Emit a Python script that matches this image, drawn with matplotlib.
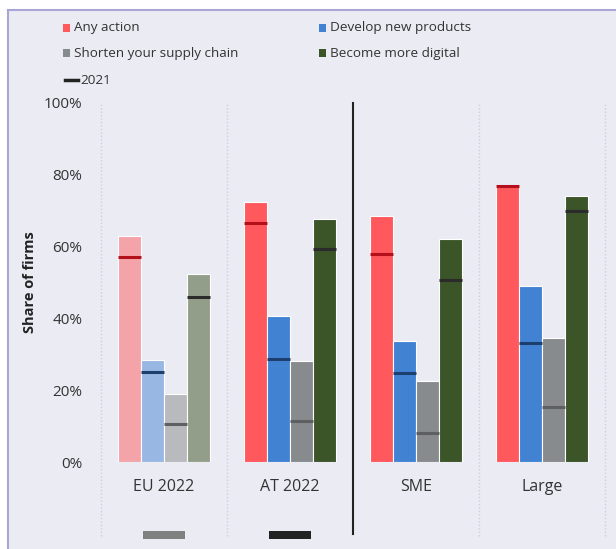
import matplotlib
matplotlib.use("Agg")
import matplotlib.pyplot as plt
from matplotlib.patches import Rectangle
import numpy as np

plt.rcParams['font.family'] = ['Open Sans', 'DejaVu Sans']

categories = ["EU 2022", "AT 2022", "SME", "Large"]
series = ["Any action", "Develop new products", "Shorten your supply chain", "Become more digital"]
any_action = [63, 72.3, 68.6, 77.2]
develop = [28.3, 40.8, 33.7, 49.1]
shorten = [18.9, 28.0, 22.6, 34.5]
digital = [52.3, 67.7, 62.2, 74.1]
any_2021 = [57, 66.6, 58, 76.9]
develop_2021 = [25, 28.7, 24.9, 33.1]
shorten_2021 = [10.5, 11.3, 8.1, 15.3]
digital_2021 = [46, 59.4, 50.7, 70]
yticks = [0, 20, 40, 60, 80, 100]
ytick_labels = ["0%", "20%", "40%", "60%", "80%", "100%"]

values = [any_action, develop, shorten, digital]
values_2021 = [any_2021, develop_2021, shorten_2021, digital_2021]

main_colors = ["#ff585d", "#4182d3", "#888b8e", "#3b5428"]
eu_colors = ["#f4a3a8", "#98b8e3", "#b9babd", "#939e8a"]
mark_colors = ["#b3101c", "#1c3f6e", "#5e5f61", "#2b2b2b"]

W, H = 616, 549
fig = plt.figure(figsize=(W / 100, H / 100), dpi=100)
bg = "#ebebf4"
# background panel with left/top border
fig.patches.append(Rectangle((8 / W, 0), 1, 1 - 10 / H, transform=fig.transFigure,
                             facecolor=bg, edgecolor="none", zorder=-5))
fig.lines.append(plt.Line2D([8 / W, 8 / W], [0, 1 - 10 / H], transform=fig.transFigure,
                            color="#a9a6d6", lw=1.5, zorder=-4))
fig.lines.append(plt.Line2D([8 / W, 1], [1 - 10 / H, 1 - 10 / H], transform=fig.transFigure,
                            color="#a9a6d6", lw=1.5, zorder=-4))

left, right = 101 / W, 605 / W
bottom, top = 1 - 462 / H, 1 - 103 / H
ax = fig.add_axes([left, bottom, right - left, top - bottom])
ax.set_facecolor("none")
for s in ax.spines.values():
    s.set_visible(False)

x = np.arange(len(categories))
w = 0.183
offsets = [-1.5 * w, -0.5 * w, 0.5 * w, 1.5 * w]
for j in range(4):
    cols = [eu_colors[j]] + [main_colors[j]] * 3
    ax.bar(x + offsets[j], values[j], width=w, color=cols, edgecolor="white",
           linewidth=0.8, zorder=3)
    ax.hlines(values_2021[j], x + offsets[j] - w / 2, x + offsets[j] + w / 2,
              color=mark_colors[j], lw=2.2, zorder=4)

ax.set_xlim(-0.5, 3.5)
ax.set_ylim(0, 100)
ax.set_yticks(yticks)
ax.set_yticklabels(ytick_labels, fontsize=11, color="#333333")
ax.set_xticks(x)
ax.set_xticklabels(categories, fontsize=11.5, color="#333333")
ax.tick_params(axis="y", length=0, pad=13.5)
ax.tick_params(axis="x", length=0, pad=12)
ax.set_ylabel("Share of firms", fontsize=10.5, fontweight="bold", color="#222222", labelpad=5)

ymin_ext = -0.205
for gx in [-0.5, 0.5, 2.5, 3.5]:
    ax.axvline(gx, ymin=ymin_ext, ymax=1, color="#cfcfdc", lw=1, ls=(0, (1, 1.5)),
               clip_on=False, zorder=1)
ax.axvline(1.5, ymin=-0.2, ymax=1, color="#222222", lw=1.5, clip_on=False, zorder=2)

# small stubs below categories
ax.add_patch(Rectangle((-0.167, -21.4), 0.333, 2.2, facecolor="#808080", edgecolor="none",
                       clip_on=False, transform=ax.transData))
ax.add_patch(Rectangle((1 - 0.167, -21.4), 0.333, 2.2, facecolor="#222222", edgecolor="none",
                       clip_on=False, transform=ax.transData))

# legend
def px(xp, yp):
    return xp / W, 1 - yp / H

leg_items = [(63, 27, series[0], main_colors[0]), (319, 27, series[1], main_colors[1]),
             (63, 52, series[2], main_colors[2]), (319, 52, series[3], main_colors[3])]
for xp, yp, label, c in leg_items:
    fig.patches.append(Rectangle(px(xp, yp + 5), 7 / W, 8 / H, transform=fig.transFigure,
                                 facecolor=c, edgecolor="none"))
    fig.text(*px(xp + 11, yp + 1), label, fontsize=9.7, color="#333333", va="center", ha="left")
fig.lines.append(plt.Line2D([65 / W, 78 / W], [1 - 80 / H, 1 - 80 / H], transform=fig.transFigure,
                            color="#222222", lw=2.5))
fig.text(*px(80, 81), "2021", fontsize=9.7, color="#333333", va="center", ha="left")

fig.savefig("out.png", dpi=100, facecolor="white")
